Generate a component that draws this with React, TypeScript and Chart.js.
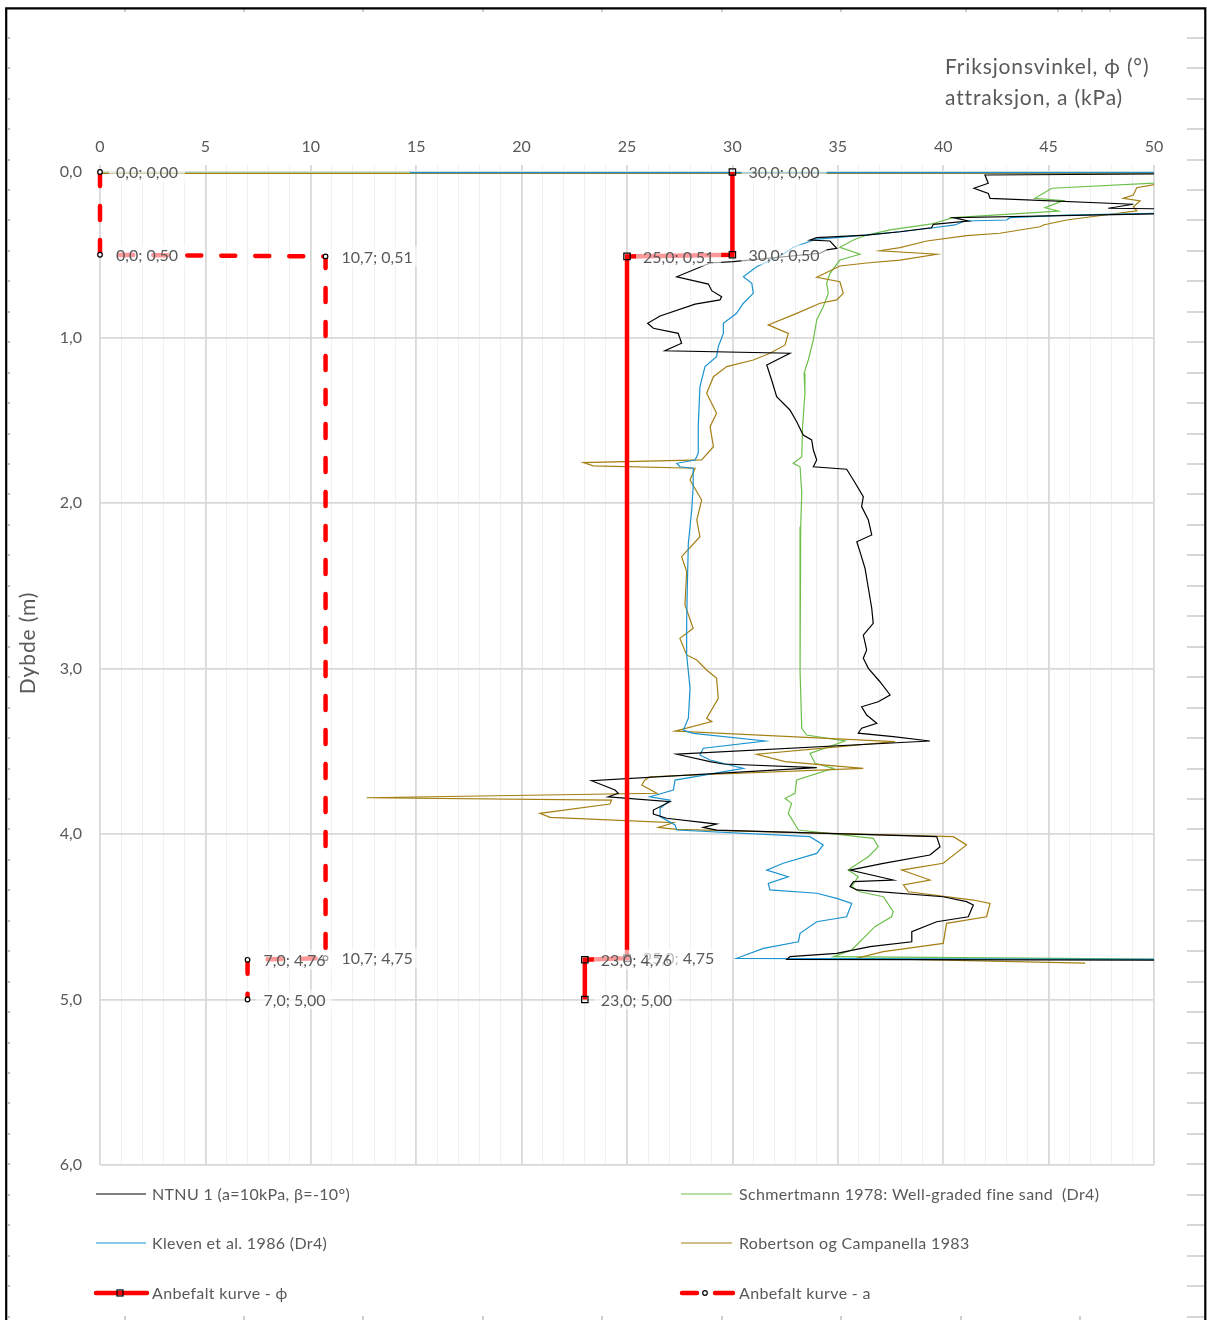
import { useEffect, useRef } from 'react';
import { Chart, registerables } from 'chart.js';

Chart.register(...registerables);

const FONT = 'Lato, "Open Sans", "DejaVu Sans", sans-serif';
const TEXT = '#595959';

// Axis ranges and labelled ticks
const PHI_MIN = 0;
const PHI_MAX = 50;
const PHI_LABEL_STEP = 5;
const DEPTH_MIN = 0;
const DEPTH_MAX = 6;

// Series: [friksjonsvinkel (deg), dybde (m)]
const NTNU_1: [number, number][] = [
  [60, 0.005], [41.98, 0.018], [42.14, 0.068], [41.46, 0.098], [42.14, 0.129], [42.22, 0.159],
  [49.02, 0.195], [47.83, 0.219], [52, 0.225], [52, 0.248], [40.48, 0.276], [41.19, 0.296],
  [39.53, 0.316], [39.45, 0.337], [37.95, 0.361], [36.37, 0.381], [34.0, 0.397], [33.68, 0.411],
  [34.63, 0.417], [34.95, 0.461], [34.47, 0.471], [34.16, 0.491], [30.04, 0.542], [28.94, 0.55],
  [27.36, 0.633], [28.86, 0.677], [29.02, 0.717], [29.49, 0.753], [29.41, 0.773], [28.23, 0.798],
  [26.57, 0.87], [25.98, 0.914], [26.25, 0.944], [27.43, 0.975], [27.59, 1.035], [26.8, 1.08],
  [32.73, 1.095], [31.63, 1.166], [31.86, 1.257], [32.1, 1.358], [32.73, 1.438], [33.05, 1.509],
  [33.36, 1.589], [33.76, 1.619], [33.84, 1.68], [34.0, 1.74], [33.84, 1.781], [35.42, 1.796],
  [35.74, 1.861], [36.21, 1.962], [36.13, 2.022], [36.45, 2.103], [36.61, 2.193], [35.9, 2.234],
  [36.05, 2.294], [36.29, 2.394], [36.45, 2.515], [36.61, 2.636], [36.68, 2.727], [36.21, 2.798],
  [36.37, 2.888], [36.21, 2.938], [36.45, 2.999], [37.0, 3.08], [37.48, 3.16], [36.92, 3.201],
  [36.13, 3.231], [36.37, 3.281], [36.85, 3.331], [36.13, 3.361], [35.97, 3.391], [37.63, 3.412],
  [39.37, 3.438], [27.36, 3.518], [28.94, 3.563], [29.57, 3.577], [34.0, 3.599], [23.32, 3.678],
  [24.43, 3.734], [24.59, 3.754], [24.11, 3.775], [27.04, 3.805], [26.25, 3.855], [26.25, 3.879],
  [26.88, 3.905], [29.25, 3.94], [28.62, 3.96], [29.25, 3.976], [39.69, 4.016], [39.85, 4.077],
  [39.37, 4.127], [37.16, 4.177], [35.58, 4.218], [37.63, 4.278], [35.74, 4.288], [35.58, 4.318],
  [35.9, 4.338], [40.0, 4.379], [41.11, 4.409], [41.43, 4.429], [41.19, 4.5], [39.69, 4.53],
  [38.51, 4.59], [38.51, 4.651], [36.53, 4.681], [34.95, 4.721], [32.73, 4.741], [32.58, 4.758],
  [60, 4.765],
];

const KLEVEN_1986: [number, number][] = [
  [14.7, 0.004], [60, 0.004], [60, 0.246], [52, 0.246], [45.86, 0.26], [43.17, 0.276], [43.01, 0.29],
  [41.03, 0.296], [40.56, 0.32], [39.53, 0.337], [37.95, 0.361], [35.1, 0.395], [34.0, 0.405],
  [32.89, 0.455], [32.34, 0.502], [31.15, 0.572], [30.52, 0.633], [30.92, 0.673], [30.99, 0.733],
  [30.52, 0.793], [30.2, 0.854], [29.57, 0.914], [29.57, 0.975], [29.33, 1.056], [29.25, 1.116],
  [28.7, 1.176], [28.46, 1.297], [28.38, 1.539], [28.38, 1.7], [28.23, 1.74], [27.36, 1.76],
  [27.51, 1.781], [28.14, 1.79], [28.14, 1.902], [28.07, 2.042], [27.91, 2.244], [27.86, 2.515],
  [27.83, 2.717], [27.83, 2.918], [27.99, 3.12], [27.91, 3.301], [27.67, 3.372], [28.14, 3.392],
  [31.55, 3.438], [28.62, 3.482], [28.46, 3.523], [28.94, 3.553], [30.52, 3.603], [27.28, 3.674],
  [27.2, 3.734], [26.09, 3.775], [27.04, 3.795], [26.57, 3.845], [26.57, 3.895], [27.28, 3.945],
  [27.36, 3.976], [33.68, 4.016], [34.31, 4.066], [34.0, 4.117], [32.41, 4.177], [31.63, 4.218],
  [32.65, 4.258], [31.7, 4.298], [31.78, 4.338], [34.0, 4.358], [34.95, 4.389], [35.66, 4.419],
  [35.42, 4.5], [34.0, 4.53], [33.21, 4.6], [33.13, 4.651], [31.47, 4.691], [30.2, 4.751],
  [60, 4.76],
];

const SCHMERTMANN_1978: [number, number][] = [
  [0, 0.007], [60, 0.007], [60, 0.054], [52, 0.054], [45.15, 0.098], [44.35, 0.159], [45.7, 0.173],
  [44.83, 0.216], [45.46, 0.236], [40.48, 0.276], [39.45, 0.314], [37.48, 0.35], [36.37, 0.381],
  [35.74, 0.411], [35.1, 0.455], [36.05, 0.497], [35.1, 0.532], [34.63, 0.612], [34.47, 0.673],
  [34.55, 0.733], [34.31, 0.814], [34.0, 0.894], [33.84, 1.015], [33.6, 1.136], [33.4, 1.216],
  [33.44, 1.337], [33.33, 1.539], [33.29, 1.72], [32.89, 1.76], [33.21, 1.781], [33.29, 1.941],
  [33.24, 2.143], [33.21, 2.344], [33.21, 2.717], [33.21, 3.019], [33.29, 3.361], [33.52, 3.402],
  [35.34, 3.438], [33.68, 3.513], [33.92, 3.573], [34.79, 3.603], [33.05, 3.674], [32.97, 3.754],
  [32.5, 3.784], [32.81, 3.815], [32.65, 3.875], [33.13, 3.976], [36.68, 4.026], [36.92, 4.077],
  [36.45, 4.137], [35.97, 4.177], [35.5, 4.218], [35.97, 4.258], [35.66, 4.318], [36.05, 4.349],
  [37.16, 4.379], [37.63, 4.469], [37.55, 4.5], [36.76, 4.56], [36.29, 4.62], [35.66, 4.701],
  [34.79, 4.741], [60, 4.765],
];

const ROBERTSON_1983: [number, number][] = [
  [0, 0.009], [60, 0.009], [60, 0.074], [50.1, 0.074], [49.18, 0.095], [49.02, 0.139], [48.54, 0.159],
  [49.34, 0.175], [49.02, 0.21], [49.18, 0.234], [45.86, 0.29], [44.75, 0.32], [44.59, 0.331],
  [42.69, 0.37], [41.11, 0.385], [39.22, 0.417], [37.95, 0.457], [37.0, 0.476], [39.69, 0.497],
  [37.95, 0.532], [36.37, 0.55], [35.1, 0.568], [34.0, 0.636], [35.1, 0.663], [35.26, 0.733],
  [34.95, 0.773], [34.16, 0.793], [33.05, 0.854], [31.7, 0.924], [32.65, 0.975], [32.5, 1.045],
  [31.78, 1.095], [30.99, 1.136], [29.73, 1.176], [29.1, 1.237], [28.78, 1.337], [29.25, 1.458],
  [28.94, 1.539], [29.1, 1.66], [28.54, 1.74], [22.93, 1.756], [23.4, 1.776], [28.23, 1.79],
  [27.99, 1.861], [28.54, 1.982], [28.31, 2.103], [28.46, 2.204], [27.59, 2.324], [27.83, 2.415],
  [27.75, 2.616], [28.14, 2.757], [27.51, 2.818], [27.83, 2.918], [28.31, 2.949], [28.78, 3.009],
  [29.25, 3.059], [29.33, 3.18], [28.78, 3.301], [29.02, 3.321], [27.28, 3.378], [37.71, 3.442],
  [31.15, 3.518], [32.5, 3.563], [36.21, 3.603], [26.09, 3.654], [25.85, 3.674], [25.7, 3.704],
  [26.41, 3.754], [12.65, 3.781], [24.27, 3.795], [24.19, 3.819], [20.87, 3.875], [21.35, 3.899],
  [27.2, 3.932], [26.49, 3.96], [27.36, 3.972], [40.48, 4.016], [41.11, 4.066], [40.0, 4.177],
  [38.03, 4.218], [39.37, 4.278], [38.11, 4.308], [38.35, 4.349], [41.43, 4.399], [42.22, 4.419],
  [42.06, 4.5], [40.16, 4.54], [40.0, 4.661], [37.16, 4.711], [35.9, 4.751], [46.73, 4.78],
];

// Recommended design profiles
const ANBEFALT_PHI: [number, number][] = [[30, 0], [30, 0.5], [25, 0.51], [25, 4.75], [23, 4.76], [23, 5.0]];
const ANBEFALT_A: [number, number][] = [[0, 0], [0, 0.5], [10.7, 0.51], [10.7, 4.75], [7, 4.76], [7, 5.0]];

const SERIES_NAMES = [
  'NTNU 1 (a=10kPa, β=-10°)',
  'Schmertmann 1978: Well-graded fine sand  (Dr4)',
  'Kleven et al. 1986 (Dr4)',
  'Robertson og Campanella 1983',
  'Anbefalt kurve - ϕ',
  'Anbefalt kurve - a',
];

const X_TITLE = ['Friksjonsvinkel, ϕ (°)', 'attraksjon, a (kPa)'];
const Y_TITLE = 'Dybde (m)';

const C_NTNU = '#000000';
const C_SCHM = '#6cc04a';
const C_KLEV = '#1a93cf';
const C_ROB = '#a57f13';
const C_RED = '#ff0000';

const comma = (v: number, d: number) => v.toFixed(d).replace('.', ',');
const toXY = (pts: [number, number][]) => pts.map(([x, y]) => ({ x, y }));

const curve = (label: string, pts: [number, number][], color: string, order: number) => ({
  label,
  data: toXY(pts),
  showLine: true,
  borderColor: color,
  backgroundColor: color,
  borderWidth: 1.2,
  pointRadius: 0,
  tension: 0,
  order,
});

const setSpacing = (ctx: any, px: number) => {
  if ('letterSpacing' in ctx) ctx.letterSpacing = `${px}px`;
};

const overlay = {
  id: 'overlay',
  afterDatasetsDraw(chart: any) {
    const { ctx } = chart;
    const xs = chart.scales.x;
    const ys = chart.scales.y;
    ctx.save();
    ctx.font = `16px ${FONT}`;
    ctx.textBaseline = 'middle';
    ctx.textAlign = 'left';
    for (const series of [ANBEFALT_A, ANBEFALT_PHI]) {
      for (const [p, d] of series) {
        const X = xs.getPixelForValue(p) + 16;
        const Y = ys.getPixelForValue(d);
        const t = `${comma(p, 1)}; ${comma(d, 2)}`;
        const w = ctx.measureText(t).width;
        ctx.fillStyle = 'rgba(255,255,255,0.6)';
        ctx.fillRect(X - 7, Y - 10, w + 14, 20);
        ctx.fillStyle = TEXT;
        ctx.fillText(t, X, Y + 1);
      }
    }
    ctx.restore();
  },
  afterDraw(chart: any) {
    const { ctx } = chart;
    ctx.save();

    // axis titles
    ctx.fillStyle = TEXT;
    ctx.font = `21px ${FONT}`;
    setSpacing(ctx, 0.85);
    ctx.textAlign = 'left';
    ctx.textBaseline = 'middle';
    ctx.fillText(X_TITLE[0], 945, 67);
    ctx.fillText(X_TITLE[1], 945, 98);
    ctx.save();
    ctx.translate(28, 643);
    ctx.rotate(-Math.PI / 2);
    ctx.textAlign = 'center';
    ctx.fillText(Y_TITLE, 0, 0);
    ctx.restore();

    // legend
    const rows = [1194, 1243, 1293];
    const cols = [
      { a: 96, b: 146, t: 152 },
      { a: 681, b: 732, t: 739 },
    ];
    const thin = [C_NTNU, C_SCHM, C_KLEV, C_ROB];
    ctx.font = `16px ${FONT}`;
    setSpacing(ctx, 0.35);
    ctx.textBaseline = 'middle';
    ctx.textAlign = 'left';
    SERIES_NAMES.forEach((name, i) => {
      const c = cols[i % 2];
      const y = rows[Math.floor(i / 2)];
      if (i < 4) {
        ctx.strokeStyle = thin[i];
        ctx.lineWidth = 1.2;
        ctx.beginPath();
        ctx.moveTo(c.a, y);
        ctx.lineTo(c.b, y);
        ctx.stroke();
      } else if (i === 4) {
        ctx.strokeStyle = C_RED;
        ctx.lineWidth = 4.5;
        ctx.lineCap = 'round';
        ctx.beginPath();
        ctx.moveTo(c.a, y);
        ctx.lineTo(c.b + 1, y);
        ctx.stroke();
        ctx.lineCap = 'butt';
        ctx.strokeStyle = '#000';
        ctx.lineWidth = 1.2;
        ctx.strokeRect(c.a + 21, y - 3, 6, 6);
      } else {
        ctx.strokeStyle = C_RED;
        ctx.lineWidth = 4.5;
        ctx.lineCap = 'round';
        ctx.beginPath();
        ctx.moveTo(c.a + 1, y);
        ctx.lineTo(c.a + 16, y);
        ctx.moveTo(c.a + 34, y);
        ctx.lineTo(c.b + 1, y);
        ctx.stroke();
        ctx.lineCap = 'butt';
        ctx.fillStyle = '#fff';
        ctx.strokeStyle = '#000';
        ctx.lineWidth = 1.2;
        ctx.beginPath();
        ctx.arc(c.a + 24, y, 2.3, 0, Math.PI * 2);
        ctx.fill();
        ctx.stroke();
      }
      ctx.fillStyle = TEXT;
      ctx.fillText(name, c.t, y + 1);
    });
    setSpacing(ctx, 0);

    // sheet frame and row/column marks
    for (let y = 37.7; y < 1320; y += 30.45) {
      ctx.fillStyle = '#d6d6d6';
      ctx.fillRect(1187, Math.round(y) - 1, 17, 2);
      ctx.fillStyle = '#bdbdbd';
      ctx.fillRect(8, Math.round(y) - 1, 2, 2);
    }
    ctx.fillStyle = '#cfcfcf';
    for (const x of [125, 244, 363, 483, 602, 722, 841, 966, 1058, 1082, 1110]) {
      ctx.fillRect(x - 1, 9, 2, 3);
    }
    for (const x of [125, 244, 363, 483, 602, 722, 841, 961, 1080]) {
      ctx.fillRect(x - 1, 1316, 2, 4);
    }
    ctx.strokeStyle = '#000';
    ctx.lineWidth = 2.2;
    ctx.beginPath();
    ctx.moveTo(6.2, 1330);
    ctx.lineTo(6.2, 8.3);
    ctx.lineTo(1205.3, 8.3);
    ctx.lineTo(1205.3, 1330);
    ctx.stroke();

    ctx.restore();
  },
};

export default function App() {
  const ref = useRef<HTMLCanvasElement>(null);

  useEffect(() => {
    if (!ref.current) return;
    const major = '#d9d9d9';
    const minor = '#f0f0f0';
    const chart = new Chart(ref.current, {
      type: 'scatter',
      data: {
        datasets: [
          curve(SERIES_NAMES[0], NTNU_1, C_NTNU, 3),
          curve(SERIES_NAMES[1], SCHMERTMANN_1978, C_SCHM, 6),
          curve(SERIES_NAMES[2], KLEVEN_1986, C_KLEV, 4),
          curve(SERIES_NAMES[3], ROBERTSON_1983, C_ROB, 5),
          {
            label: SERIES_NAMES[4],
            data: toXY(ANBEFALT_PHI),
            showLine: true,
            borderColor: C_RED,
            borderWidth: 4.5,
            pointStyle: 'rect',
            pointRadius: 4.5,
            pointBorderColor: '#000',
            pointBorderWidth: 1.2,
            pointBackgroundColor: 'rgba(0,0,0,0)',
            tension: 0,
            clip: 8,
            order: 1,
          } as any,
          {
            label: SERIES_NAMES[5],
            data: toXY(ANBEFALT_A),
            showLine: true,
            borderColor: C_RED,
            borderWidth: 4.5,
            borderDash: [14, 20],
            borderCapStyle: 'round',
            pointStyle: 'circle',
            pointRadius: 2.3,
            pointBorderColor: '#000',
            pointBorderWidth: 1.2,
            pointBackgroundColor: '#fff',
            tension: 0,
            clip: 8,
            order: 0,
          } as any,
        ],
      },
      options: {
        animation: false,
        responsive: false,
        devicePixelRatio: 1,
        events: [],
        layout: { padding: { left: 0, top: 0, right: 53, bottom: 155 } },
        plugins: { legend: { display: false }, tooltip: { enabled: false } },
        scales: {
          x: {
            type: 'linear',
            position: 'top',
            min: PHI_MIN,
            max: PHI_MAX,
            ticks: {
              stepSize: 1,
              autoSkip: false,
              maxRotation: 0,
              padding: 9,
              color: TEXT,
              font: { family: FONT, size: 16 },
              callback: (v: any) => (Math.round(v) % PHI_LABEL_STEP === 0 ? String(Math.round(v)) : ''),
            },
            grid: {
              drawTicks: true,
              tickLength: 7,
              color: (c: any) => (c.tick && Math.round(c.tick.value) % PHI_LABEL_STEP === 0 ? major : minor),
              lineWidth: (c: any) => (c.tick && Math.round(c.tick.value) % PHI_LABEL_STEP === 0 ? 1.8 : 1),
            },
            border: { display: false },
            afterFit: (s: any) => {
              s.height = 172;
            },
          },
          y: {
            type: 'linear',
            reverse: true,
            min: DEPTH_MIN,
            max: DEPTH_MAX,
            ticks: {
              stepSize: 1,
              padding: 18,
              color: TEXT,
              font: { family: FONT, size: 16 },
              callback: (v: any) => comma(Number(v), 1),
            },
            grid: { drawTicks: false, color: major, lineWidth: 1.8 },
            border: { display: false },
            afterFit: (s: any) => {
              s.width = 100;
            },
          },
        },
      } as any,
      plugins: [overlay],
    });
    return () => chart.destroy();
  }, []);

  return (
    <div style={{ position: 'absolute', left: 0, top: 0, width: 1207, height: 1320, background: '#fff' }}>
      <canvas ref={ref} width={1207} height={1320} style={{ display: 'block', width: 1207, height: 1320 }} />
    </div>
  );
}
